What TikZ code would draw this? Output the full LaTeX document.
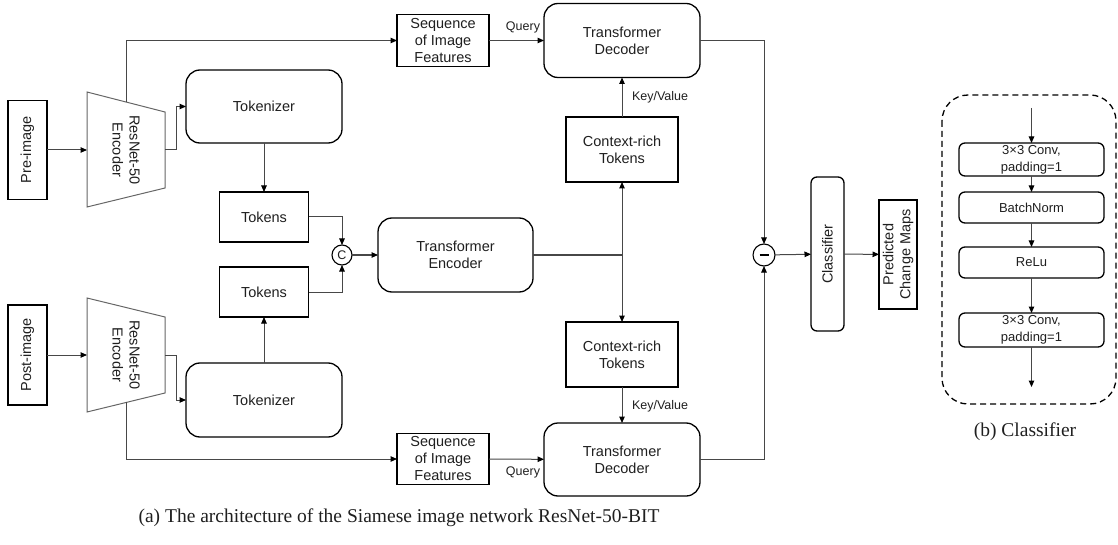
\documentclass[tikz,border=0pt]{standalone}
\usepackage{fontspec}
\setmainfont{Liberation Sans}
\newfontfamily\capfont{Liberation Serif}
\usetikzlibrary{arrows.meta}
\begin{document}
\begin{tikzpicture}[x=1pt,y=-1pt,
  every node/.style={inner sep=0pt, outer sep=0pt, text=black!88,
    font=\fontsize{14.5}{17}\selectfont},
  box/.style={draw=black, line width=1.3pt, rectangle, align=center},
  rbox/.style={box, rounded corners=14pt},
  sbox/.style={box, rounded corners=6pt},
  wire/.style={draw=black!72, line width=1pt},
  arr/.style={wire, -{Triangle[length=6.5pt,width=5.5pt,color=black]}},
  trap/.style={draw=black!60, line width=1pt},
  lbl/.style={font=\fontsize{12.5}{14}\selectfont},
  op/.style={circle, draw=black, line width=1.1pt, font=\fontsize{12.5}{14}\selectfont},
  small/.style={font=\fontsize{13}{17}\selectfont},
]
\useasboundingbox (0,0) rectangle (1118,545);

% ---------- inputs ----------
\node[box, minimum width=39pt, minimum height=99pt] (pre) at (27.5,150) {};
\node[rotate=90] (pre-t) at (pre) {Pre-image};
\node[box, minimum width=39pt, minimum height=100pt] (post) at (27.5,355) {};
\node[rotate=90] (post-t) at (post) {Post-image};

% ---------- ResNet-50 encoders (trapezoids) ----------
\draw[trap] (87,92) -- (165,112) -- (165,188) -- (87,207) -- cycle;
\node[rotate=-90, align=center] (enc1) at (126,150) {ResNet-50\\Encoder};
\coordinate (enc1-in) at (87,150);
\coordinate (enc1-out) at (165,150);
\coordinate (enc1-top) at (126,102);

\draw[trap] (87,298) -- (165,317) -- (165,393) -- (87,412) -- cycle;
\node[rotate=-90, align=center] (enc2) at (126,355) {ResNet-50\\Encoder};
\coordinate (enc2-in) at (87,355);
\coordinate (enc2-out) at (165,355);
\coordinate (enc2-bot) at (126,402);

% ---------- tokenizers and tokens ----------
\node[rbox, minimum width=156pt, minimum height=73pt] (tok1) at (264,106.5) {Tokenizer};
\node[rbox, minimum width=156pt, minimum height=74pt] (tok2) at (264,400) {Tokenizer};
\node[box, minimum width=89pt, minimum height=50pt] (tks1) at (264,217) {Tokens};
\node[box, minimum width=89pt, minimum height=50pt] (tks2) at (264,292) {Tokens};
\node[op, minimum size=20pt] (cat) at (342,255) {C};

% ---------- transformer encoder ----------
\node[rbox, minimum width=155pt, minimum height=74pt] (tenc) at (455.5,255) {Transformer\\Encoder};
\coordinate (split) at (622,255);

% ---------- context tokens ----------
\node[box, minimum width=112pt, minimum height=65pt] (ctx1) at (622,149.5) {Context-rich\\Tokens};
\node[box, minimum width=112pt, minimum height=65pt] (ctx2) at (622,354.5) {Context-rich\\Tokens};

% ---------- image feature sequences and decoders ----------
\node[box, minimum width=92pt, minimum height=52pt] (seq1) at (443,40.5) {Sequence\\of Image\\Features};
\node[box, minimum width=92pt, minimum height=51pt] (seq2) at (443,459) {Sequence\\of Image\\Features};
\node[rbox, minimum width=156pt, minimum height=74pt] (dec1) at (622,40.5) {Transformer\\Decoder};
\node[rbox, minimum width=156pt, minimum height=73pt] (dec2) at (622,459.5) {Transformer\\Decoder};

% ---------- difference, classifier, output ----------
\node[op, minimum size=22pt] (diff) at (764,255) {};
\draw[line width=1.1pt] ([xshift=-4.5pt]diff.center) -- ([xshift=4.5pt]diff.center);
\node[sbox, minimum width=33pt, minimum height=154pt] (cls) at (827.5,254) {};
\node[rotate=90] (cls-t) at (cls) {Classifier};
\node[box, minimum width=38pt, minimum height=109pt] (pcm) at (898,254.5) {};
\node[rotate=90, align=center] (pcm-t) at (pcm) {Predicted\\Change Maps};

% ---------- connectors ----------
\draw[arr] (pre) -- (enc1-in);
\draw[arr] (post) -- (enc2-in);
\draw[arr] (enc1-out) -- ++(11,0) |- (tok1.west);
\draw[arr] (enc2-out) -- ++(11,0) |- (tok2.west);
\draw[arr] (enc1-top) |- (seq1.west);
\draw[arr] (enc2-bot) |- (seq2.west);
\draw[arr] (tok1) -- (tks1);
\draw[arr] (tok2) -- (tks2);
\draw[arr] (tks1.east) -| (cat.north);
\draw[arr] (tks2.east) -| (cat.south);
\draw[arr] (cat) -- (tenc);
\draw[wire] (tenc.east) -- (split);
\draw[arr] (split) -- (ctx1.south);
\draw[arr] (split) -- (ctx2.north);
\draw[arr] (ctx1) -- node[lbl, right=10pt] (kv1) {Key/Value} (dec1);
\draw[arr] (ctx2) -- node[lbl, right=10pt, yshift=-1pt] (kv2) {Key/Value} (dec2);
\draw[arr] (seq1) -- (dec1);
\draw[arr] (seq2) -- (dec2);
\node[lbl] (q1) at (523,27) {Query};
\node[lbl] (q2) at (523,472) {Query};
\draw[arr] (dec1.east) -| (diff.north);
\draw[arr] (dec2.east) -| (diff.south);
\draw[arr] (diff) -- (cls);
\draw[arr] (cls) -- (pcm);

% ---------- (b) classifier head ----------
\draw[line width=1.3pt, dash pattern=on 6pt off 4pt, rounded corners=26pt]
  (942,95) rectangle (1116,404);
\node[sbox, small, minimum width=145pt, minimum height=33pt] (c1) at (1031.5,159.5) {3×3 Conv,\\padding=1};
\node[sbox, small, minimum width=145pt, minimum height=31pt] (c2) at (1031.5,207.5) {BatchNorm};
\node[sbox, small, minimum width=145pt, minimum height=31pt] (c3) at (1031.5,262.5) {ReLu};
\node[sbox, small, minimum width=145pt, minimum height=34pt] (c4) at (1031.5,330) {3×3 Conv,\\padding=1};
\coordinate (cin) at (1031.5,108);
\coordinate (cout) at (1031.5,387);
\draw[arr] (cin) -- (c1);
\draw[arr] (c1) -- (c2);
\draw[arr] (c2) -- (c3);
\draw[arr] (c3) -- (c4);
\draw[arr] (c4) -- (cout);

% ---------- captions ----------
\node[font=\capfont\fontsize{19.5}{22}\selectfont] (capa) at (399,518)
  {(a) The architecture of the Siamese image network ResNet-50-BIT};
\node[font=\capfont\fontsize{19.5}{22}\selectfont] (capb) at (1025,432) {(b) Classifier};
\end{tikzpicture}
\end{document}
